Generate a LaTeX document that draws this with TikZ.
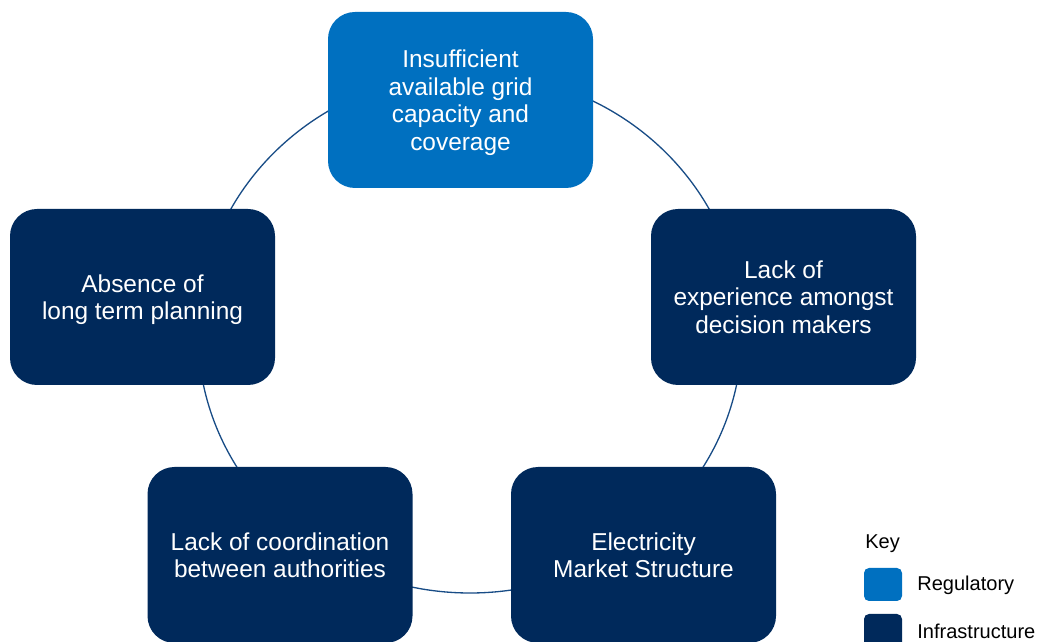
\documentclass[tikz,border=0pt]{standalone}
\usepackage{fontspec}
\setmainfont{Liberation Sans}
\definecolor{regblue}{RGB}{0,112,192}
\definecolor{infnavy}{RGB}{0,41,91}
\definecolor{ringblue}{RGB}{24,76,134}

\begin{document}
\begin{tikzpicture}[
    barrier/.style={fill=infnavy,text=white,rounded corners=0.54cm,minimum width=5.3cm,minimum height=3.52cm,align=center,text depth=-2.5pt,font=\fontsize{13.9}{15.7}\selectfont},
    regbarrier/.style={barrier,fill=regblue},
    keybox/.style={rounded corners=0.1cm,minimum width=0.76cm,minimum height=0.66cm,inner sep=0pt},
    keytext/.style={anchor=west,inner sep=0pt,font=\fontsize{11.4}{13}\selectfont}]
    \useasboundingbox (0,0) rectangle (20.86,12.84);

    \draw[ringblue,line width=0.75pt](9.4,6.18)ellipse(5.44 and 5.2);

    \node[regbarrier] (grid) at (9.21,10.84) {Insufficient\\available grid\\capacity and\\coverage};
    \node[barrier] (planning) at (2.85,6.9) {Absence of\\long term planning};
    \node[barrier] (experience) at (15.67,6.9) {Lack of\\experience amongst\\decision makers};
    \node[barrier] (coordination) at (5.6,1.74) {Lack of coordination\\between authorities};
    \node[barrier] (market) at (12.87,1.74) {Electricity\\Market Structure};

    \node[keytext] (key) at (17.3,1.97) {Key};
    \node[keybox,fill=regblue] (keyreg) at (17.66,1.15) {};
    \node[keybox,fill=infnavy] (keyinf) at (17.66,0.23) {};
    \node[keytext] (regtext) at (18.34,1.14) {Regulatory};
    \node[keytext] (inftext) at (18.34,0.22) {Infrastructure};

\end{tikzpicture}
\end{document}
